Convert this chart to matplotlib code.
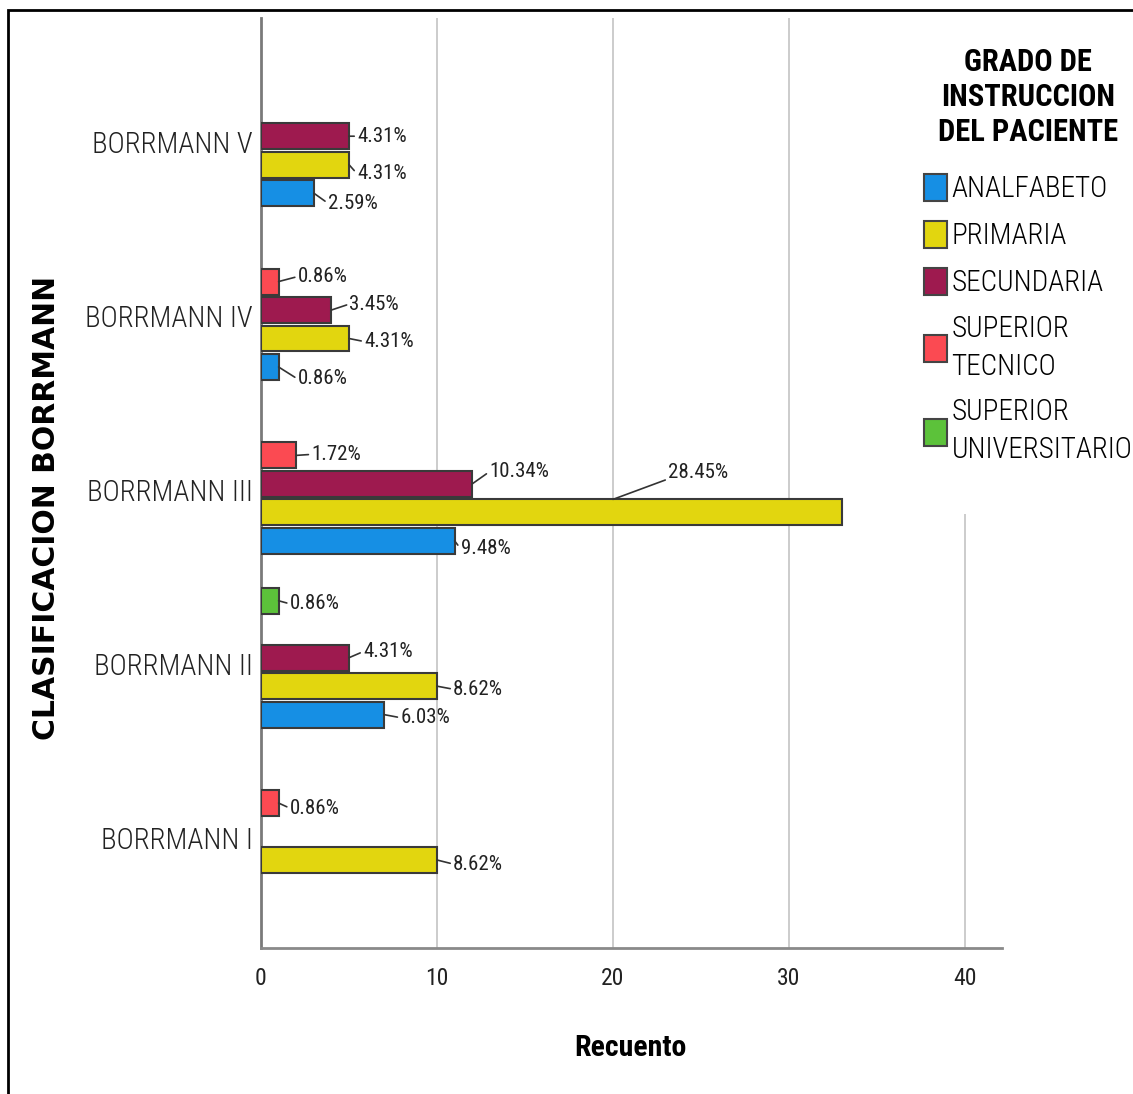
import matplotlib
matplotlib.use("Agg")
import matplotlib.pyplot as plt
from matplotlib.patches import Patch, Rectangle

# ── Data (recuento por grupo) ─────────────────────────────────────────────────
groups = ["BORRMANN I", "BORRMANN II", "BORRMANN III", "BORRMANN IV", "BORRMANN V"]
series = ["ANALFABETO", "PRIMARIA", "SECUNDARIA",
          "SUPERIOR\nTECNICO", "SUPERIOR\nUNIVERSITARIO"]
analfabeto  = [0, 7, 11, 1, 3]
primaria    = [10, 10, 33, 5, 5]
secundaria  = [0, 5, 12, 4, 5]
sup_tecnico = [1, 0, 2, 1, 0]
sup_univ    = [0, 1, 0, 0, 0]
TOTAL = 116

counts = [analfabeto, primaria, secundaria, sup_tecnico, sup_univ]
colors = ["#168fe4", "#e2d60f", "#9e1a4f", "#fb4a52", "#5cc23a"]

# ── Style ─────────────────────────────────────────────────────────────────────
NARROW = ["Roboto Condensed", "Liberation Sans Narrow", "Roboto", "DejaVu Sans"]
SLOT = 28.5 / 174
BAR_H = 26 / 174

# label offsets in pixels (dx, dy) from bar end
OFFSETS = {
    (4, 2): (8, 0), (4, 1): (8, -9), (4, 0): (14, -10),
    (3, 3): (19, 5), (3, 2): (18, 6), (3, 1): (15, -3), (3, 0): (19, -12),
    (2, 3): (15, 1), (2, 2): (17, 12), (2, 0): (6, -8),
    (1, 4): (11, -3), (1, 2): (14, 6), (1, 1): (16, -3), (1, 0): (16, -3),
    (0, 3): (11, -5), (0, 1): (16, -4),
}

fig = plt.figure(figsize=(11.33, 10.94), dpi=100)
ax = fig.add_axes([261 / 1133, 1 - 948 / 1094, 741 / 1133, 930 / 1094])

lbl_kw = dict(textcoords="offset pixels", ha="left", va="center",
              fontsize=15, family=NARROW, color="#222", zorder=5)

for i, (vals, col) in enumerate(zip(counts, colors)):
    for g, v in enumerate(vals):
        if v == 0:
            continue
        y = g + (i - 2) * SLOT
        ax.barh(y, v, height=BAR_H, color=col, edgecolor="#3a3a3a",
                linewidth=1.5, zorder=3)
        label = f"{v / TOTAL * 100:.2f}%"
        if (g, i) == (2, 1):
            # label of the long bar sits above it, leader to its top edge
            ax.annotate(label, xy=(20, y + BAR_H / 2), xytext=(55, 27),
                        arrowprops=dict(arrowstyle="-", color="#333", lw=1.2,
                                        shrinkA=0, shrinkB=0, relpos=(0, 0.15)),
                        **lbl_kw)
            continue
        dx, dy = OFFSETS.get((g, i), (16, 0))
        ax.annotate(label, xy=(v, y), xytext=(dx, dy),
                    arrowprops=dict(arrowstyle="-", color="#333", lw=1.2,
                                    shrinkA=0, shrinkB=0, relpos=(0, 0.5)),
                    **lbl_kw)

ax.set_xlim(0, 42.1)
ax.set_ylim(-0.67, 4.68)
ax.set_xticks([0, 10, 20, 30, 40])
ax.set_yticks([g - 0.035 for g in range(len(groups))])
ax.set_yticklabels(groups)
ax.tick_params(axis="both", length=0)
ax.tick_params(axis="x", pad=14, labelsize=17, colors="#222")
ax.tick_params(axis="y", pad=6, labelsize=21, colors="#222")
for lab in ax.get_xticklabels() + ax.get_yticklabels():
    lab.set_family(NARROW)
for lab in ax.get_yticklabels():
    lab.set_fontweight("light")

ax.grid(axis="x", color="#c8c8c8", lw=1.3, zorder=0)
ax.set_axisbelow(True)
for s in ["top", "right"]:
    ax.spines[s].set_visible(False)
ax.spines["left"].set_color("#7a7a7a")
ax.spines["left"].set_linewidth(2)
ax.spines["bottom"].set_color("#8a8a8a")
ax.spines["bottom"].set_linewidth(2)

ax.set_xlabel("Recuento", fontsize=21.5, fontweight="bold", family=NARROW)
ax.xaxis.set_label_coords(0.499, -0.092)
ax.xaxis.label.set_va("top")
fig.text(47 / 1133, 1 - 508 / 1094, "CLASIFICACION BORRMANN", rotation=90,
         ha="center", va="center", fontsize=21.5, fontweight="bold",
         family="DejaVu Sans")

# ── Legend ────────────────────────────────────────────────────────────────────
handles = [Patch(facecolor=c, edgecolor="#444", linewidth=1.5) for c in colors]
leg = fig.legend(handles, series, loc="upper left",
                 bbox_to_anchor=(874 / 1133, 1 + 3 / 1094),
                 title="GRADO DE\nINSTRUCCION\nDEL PACIENTE",
                 prop=dict(family=NARROW, size=21, weight="light"),
                 title_fontproperties=dict(family=NARROW, size=22, weight="bold"),
                 frameon=True, facecolor="white", edgecolor="none", framealpha=1,
                 fancybox=False, borderpad=1.7, borderaxespad=0,
                 handlelength=0.79, handleheight=1.06, handletextpad=0.17,
                 labelspacing=0.6)
leg.get_title().set_multialignment("center")
leg.get_title().set_linespacing(1.22)
for t in leg.get_texts():
    t.set_linespacing(1.45)
leg._legend_box.sep = 19  # wider gap between title and entries

# outer frame
fig.add_artist(Rectangle((8 / 1133, -0.01), 1.1, 1 - 10 / 1094 + 0.01,
                         transform=fig.transFigure, fill=False,
                         edgecolor="black", lw=2, clip_on=False, zorder=10))

fig.savefig("out.png", dpi=100)
